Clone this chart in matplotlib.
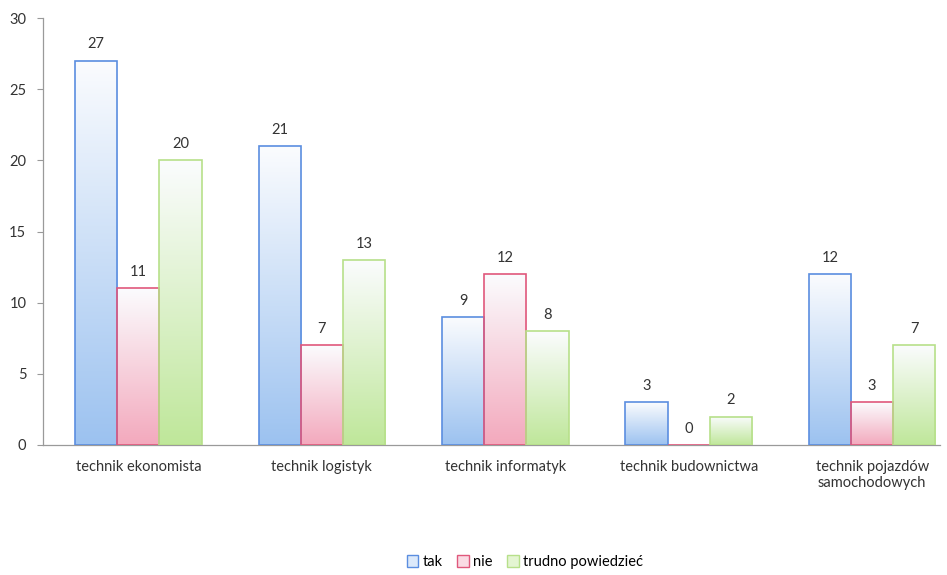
import numpy as np
import matplotlib.pyplot as plt
from matplotlib.colors import LinearSegmentedColormap
from matplotlib.patches import Patch

plt.rcParams["font.family"] = ["Lato", "DejaVu Sans"]

categories = ["technik ekonomista", "technik logistyk", "technik informatyk",
              "technik budownictwa", "technik pojazdów\nsamochodowych"]
tak = [27, 21, 9, 3, 12]
nie = [11, 7, 12, 0, 3]
trudno = [20, 13, 8, 2, 7]
series_names = ["tak", "nie", "trudno powiedzieć"]

# (edge colour, bottom fill colour, legend fill)
styles = [
    ("#5b8ee0", "#9cc2f0", "#dce9fa"),
    ("#e0587c", "#f3a9bd", "#fadbe4"),
    ("#b7e08a", "#bfe79a", "#e4f5d2"),
]

fig = plt.figure(figsize=(9.47, 5.75), dpi=100)
ax = fig.add_axes([43 / 947, 1 - 445 / 575, (940 - 43) / 947, (445 - 18) / 575])

x = np.arange(len(categories))
w = 0.23
grad = np.linspace(0, 1, 256).reshape(-1, 1)

for i, (vals, (edge, fill, _)) in enumerate(zip([tak, nie, trudno], styles)):
    cmap = LinearSegmentedColormap.from_list("g", ["#fbfcfe", fill])
    xs = x + (i - 1) * w
    for xi, v in zip(xs, vals):
        if v > 0:
            ax.imshow(grad, cmap=cmap, aspect="auto",
                      extent=(xi - w / 2, xi + w / 2, 0, v), zorder=2)
        ax.bar(xi, v, width=w, facecolor="none", edgecolor=edge, linewidth=1.2, zorder=3)
        ax.text(xi, v + 0.65, str(v), ha="center", va="bottom", fontsize=10.5, color="#333333")

ax.set_xlim(-0.52, 4.37)
ax.set_ylim(0, 30)
ax.set_yticks(range(0, 31, 5))
ax.set_xticks(x)
ax.set_xticklabels(categories, fontsize=10.5, color="#333333")
ax.tick_params(axis="x", length=0, pad=11)
ax.tick_params(axis="y", length=4, color="#999999", labelsize=10.5, labelcolor="#333333", pad=8)

for s in ["top", "right"]:
    ax.spines[s].set_visible(False)
for s in ["left", "bottom"]:
    ax.spines[s].set_color("#9a9a9a")
    ax.spines[s].set_linewidth(0.9)

handles = [Patch(facecolor=lf, edgecolor=e, label=n) for (e, f, lf), n in zip(styles, series_names)]
fig.legend(handles=handles, loc="center", bbox_to_anchor=(525 / 947, 1 - 562 / 575),
           ncol=3, frameon=False, fontsize=10.5, handlelength=0.8, handleheight=0.8,
           handletextpad=0.3, columnspacing=1.0)

fig.savefig("out.png", dpi=100)
